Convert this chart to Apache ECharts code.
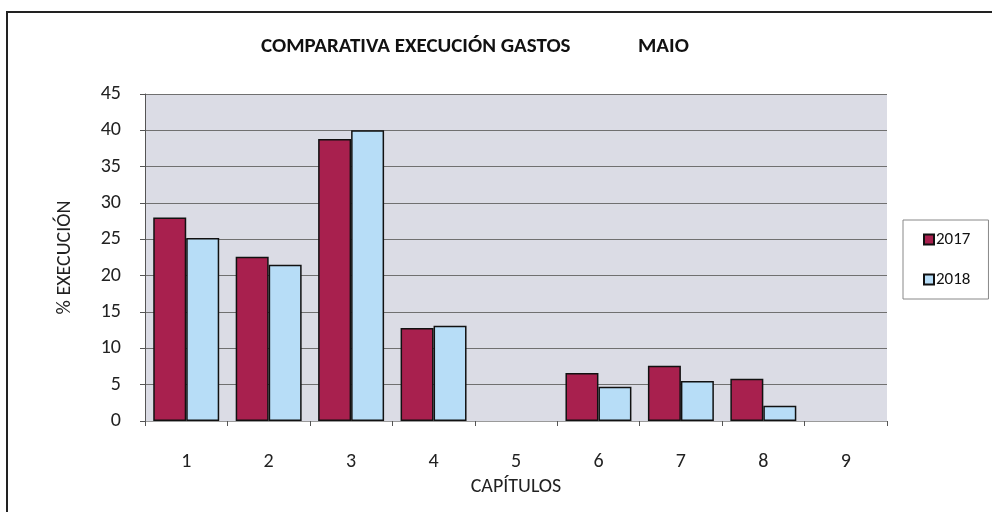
<!DOCTYPE html>
<html>
<head>
<meta charset="utf-8">
<script src="https://cdn.jsdelivr.net/npm/echarts@6/dist/echarts.min.js"></script>
<style>
html,body{margin:0;padding:0;background:#fff;}
#c{width:992px;height:512px;}
</style>
</head>
<body>
<div id="c"></div>
<script>
const categories = ['1','2','3','4','5','6','7','8','9'];
const values2017 = [28.0, 22.6, 38.8, 12.8, 0, 6.6, 7.6, 5.8, 0];
const values2018 = [25.2, 21.5, 40.0, 13.1, 0, 4.7, 5.5, 2.1, 0];
const seriesNames = ['2017','2018'];
const titleMain = 'COMPARATIVA EXECUCIÓN GASTOS';
const titleMonth = 'MAIO';
const yAxisName = '% EXECUCIÓN';
const xAxisName = 'CAPÍTULOS';

const FONT = 'Carlito, "Liberation Sans Narrow", "DejaVu Sans Condensed", "Open Sans", sans-serif';
const prep = arr => arr.map(v => v === 0 ? {value: 0, itemStyle: {borderWidth: 0}} : v);

const chart = echarts.init(document.getElementById('c'), null, {renderer: 'canvas'});
chart.setOption({
  backgroundColor: '#ffffff',
  animation: false,
  title: [
    {text: titleMain, left: 256, top: 31, textStyle: {fontFamily: FONT, fontSize: 21, fontWeight: 'bold', color: '#111'}},
    {text: titleMonth, left: 633, top: 31, textStyle: {fontFamily: FONT, fontSize: 21, fontWeight: 'bold', color: '#111'}}
  ],
  legend: {
    orient: 'vertical',
    left: 903, top: 220,
    padding: [11, 18, 11, 20],
    itemGap: 23,
    itemWidth: 10, itemHeight: 10,
    icon: 'rect',
    borderColor: '#888', borderWidth: 1,
    textStyle: {fontFamily: FONT, fontSize: 17, color: '#111', padding: [0,0,0,-3]},
    data: seriesNames
  },
  grid: {
    left: 145, right: 105, top: 94, bottom: 91,
    show: true, backgroundColor: '#dbdce5', borderWidth: 0
  },
  xAxis: {
    type: 'category',
    data: categories,
    name: xAxisName,
    nameLocation: 'middle',
    nameGap: 54,
    nameTextStyle: {fontFamily: FONT, fontSize: 20, color: '#222'},
    axisLine: {lineStyle: {color: '#9a9a9a', width: 1}},
    axisTick: {show: true, length: 5, lineStyle: {color: '#555'}},
    axisLabel: {fontFamily: FONT, fontSize: 20, color: '#222', margin: 31},
    splitLine: {show: false}
  },
  yAxis: {
    type: 'value',
    min: 0, max: 45, interval: 5,
    name: yAxisName,
    nameLocation: 'middle',
    nameGap: 80,
    nameRotate: 90,
    nameTextStyle: {fontFamily: FONT, fontSize: 20, color: '#222', verticalAlign: 'middle'},
    axisLine: {show: true, lineStyle: {color: '#555', width: 1}},
    axisTick: {show: true, length: 5, lineStyle: {color: '#555'}},
    axisLabel: {fontFamily: FONT, fontSize: 20, color: '#222', margin: 24},
    splitLine: {show: true, lineStyle: {color: '#707070', width: 1}}
  },
  series: [
    {
      name: seriesNames[0], type: 'bar', data: prep(values2017),
      barGap: '0%', barCategoryGap: '20%',
      itemStyle: {color: '#a8204e', borderColor: '#111', borderWidth: 1.5}
    },
    {
      name: seriesNames[1], type: 'bar', data: prep(values2018),
      itemStyle: {color: '#b7ddf7', borderColor: '#111', borderWidth: 1.5}
    }
  ],
  graphic: [
    {type: 'line', shape: {x1: 6, y1: 12, x2: 992, y2: 12}, style: {stroke: '#222', lineWidth: 2}},
    {type: 'line', shape: {x1: 7, y1: 11, x2: 7, y2: 512}, style: {stroke: '#222', lineWidth: 2}}
  ]
});
</script>
</body>
</html>
